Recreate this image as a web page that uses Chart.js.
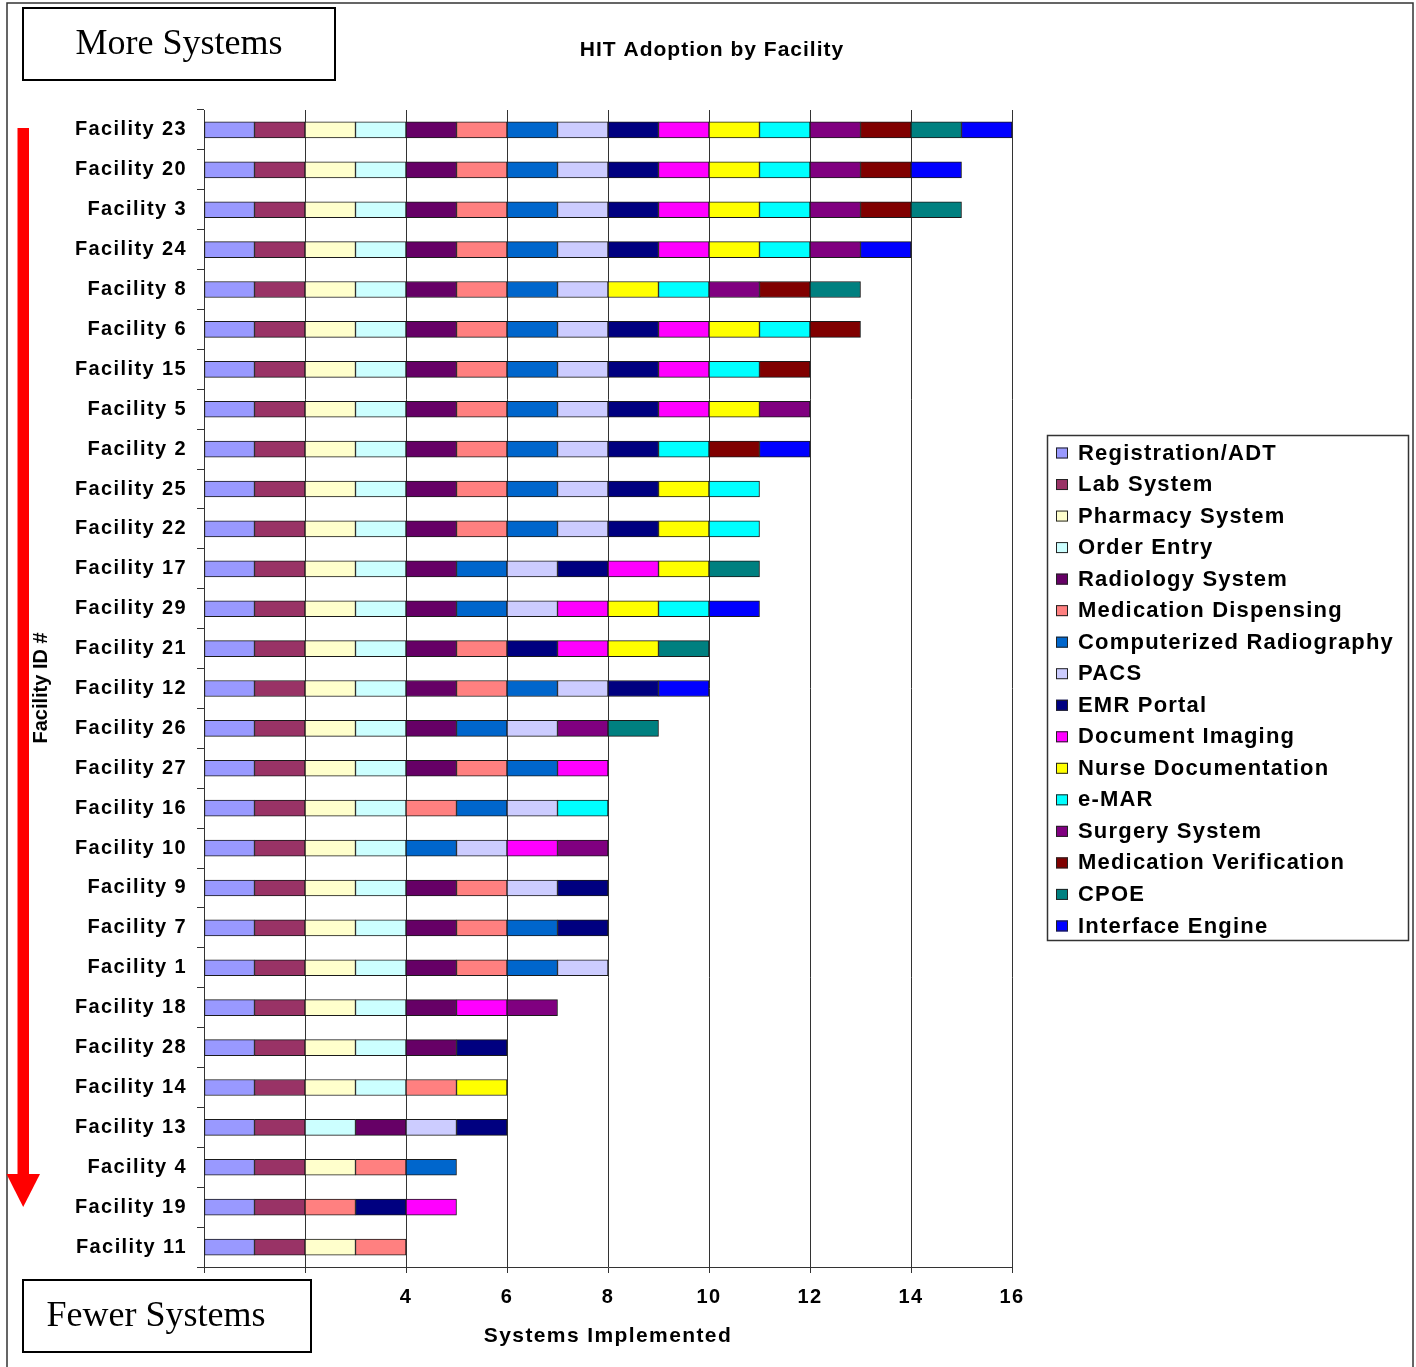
<!DOCTYPE html>
<html>
<head>
<meta charset="utf-8">
<title>HIT Adoption by Facility</title>
<script src="https://cdn.jsdelivr.net/npm/chart.js@4.4.1/dist/chart.umd.min.js"></script>
<style>
  html, body { margin: 0; padding: 0; background: #fff; }
  canvas { display: block; }
</style>
</head>
<body>
<canvas id="hitChart" width="1416" height="1367"></canvas>
<script>
// Facilities, most systems at the top
var facilities = [
    'Facility 23', 'Facility 20', 'Facility 3', 'Facility 24', 'Facility 8',
    'Facility 6', 'Facility 15', 'Facility 5', 'Facility 2', 'Facility 25',
    'Facility 22', 'Facility 17', 'Facility 29', 'Facility 21', 'Facility 12',
    'Facility 26', 'Facility 27', 'Facility 16', 'Facility 10', 'Facility 9',
    'Facility 7', 'Facility 1', 'Facility 18', 'Facility 28', 'Facility 14',
    'Facility 13', 'Facility 4', 'Facility 19', 'Facility 11'
];

// 1 = system implemented, same order as facilities
var registrationADT  = [1,1,1,1,1, 1,1,1,1,1, 1,1,1,1,1, 1,1,1,1,1, 1,1,1,1,1, 1,1,1,1];
var labSystem        = [1,1,1,1,1, 1,1,1,1,1, 1,1,1,1,1, 1,1,1,1,1, 1,1,1,1,1, 1,1,1,1];
var pharmacySystem   = [1,1,1,1,1, 1,1,1,1,1, 1,1,1,1,1, 1,1,1,1,1, 1,1,1,1,1, 0,1,0,1];
var orderEntry       = [1,1,1,1,1, 1,1,1,1,1, 1,1,1,1,1, 1,1,1,1,1, 1,1,1,1,1, 1,0,0,0];
var radiologySystem  = [1,1,1,1,1, 1,1,1,1,1, 1,1,1,1,1, 1,1,0,0,1, 1,1,1,1,0, 1,0,0,0];
var medDispensing    = [1,1,1,1,1, 1,1,1,1,1, 1,0,0,1,1, 0,1,1,0,1, 1,1,0,0,1, 0,1,1,1];
var compRadiography  = [1,1,1,1,1, 1,1,1,1,1, 1,1,1,0,1, 1,1,1,1,0, 1,1,0,0,0, 0,1,0,0];
var pacs             = [1,1,1,1,1, 1,1,1,1,1, 1,1,1,0,1, 1,0,1,1,1, 0,1,0,0,0, 1,0,0,0];
var emrPortal        = [1,1,1,1,0, 1,1,1,1,1, 1,1,0,1,1, 0,0,0,0,1, 1,0,0,1,0, 1,0,1,0];
var documentImaging  = [1,1,1,1,0, 1,1,1,0,0, 0,1,1,1,0, 0,1,0,1,0, 0,0,1,0,0, 0,0,1,0];
var nurseDoc         = [1,1,1,1,1, 1,0,1,0,1, 1,1,1,1,0, 0,0,0,0,0, 0,0,0,0,1, 0,0,0,0];
var eMAR             = [1,1,1,1,1, 1,1,0,1,1, 1,0,1,0,0, 0,0,1,0,0, 0,0,0,0,0, 0,0,0,0];
var surgerySystem    = [1,1,1,1,1, 0,0,1,0,0, 0,0,0,0,0, 1,0,0,1,0, 0,0,1,0,0, 0,0,0,0];
var medVerification  = [1,1,1,0,1, 1,1,0,1,0, 0,0,0,0,0, 0,0,0,0,0, 0,0,0,0,0, 0,0,0,0];
var cpoe             = [1,0,1,0,1, 0,0,0,0,0, 0,1,0,1,0, 1,0,0,0,0, 0,0,0,0,0, 0,0,0,0];
var interfaceEngine  = [1,1,0,1,0, 0,0,0,1,0, 0,0,1,0,1, 0,0,0,0,0, 0,0,0,0,0, 0,0,0,0];

var systemNames = [
    'Registration/ADT', 'Lab System', 'Pharmacy System', 'Order Entry',
    'Radiology System', 'Medication Dispensing', 'Computerized Radiography', 'PACS',
    'EMR Portal', 'Document Imaging', 'Nurse Documentation', 'e-MAR',
    'Surgery System', 'Medication Verification', 'CPOE', 'Interface Engine'
];
var systemValues = [
    registrationADT, labSystem, pharmacySystem, orderEntry,
    radiologySystem, medDispensing, compRadiography, pacs,
    emrPortal, documentImaging, nurseDoc, eMAR,
    surgerySystem, medVerification, cpoe, interfaceEngine
];
var systemColors = [
    '#9999FF', '#993366', '#FFFFCC', '#CCFFFF',
    '#660066', '#FF8080', '#0066CC', '#CCCCFF',
    '#000080', '#FF00FF', '#FFFF00', '#00FFFF',
    '#800080', '#800000', '#008080', '#0000FF'
];

var xTicks = [0, 2, 4, 6, 8, 10, 12, 14, 16];

var chartTitle = 'HIT Adoption by Facility';
var xTitle = 'Systems Implemented';
var yTitle = 'Facility ID #';
var topNote = 'More Systems';
var bottomNote = 'Fewer Systems';

var FONT = "'Liberation Sans', Arial, sans-serif";
var SERIF = "'Liberation Serif', 'Times New Roman', serif";

// Build one stacked dataset per system
var datasets = systemNames.map(function(name, i) {
    return {
        label: name,
        data: systemValues[i].map(function(v) { return v ? v : null; }),
        backgroundColor: systemColors[i],
        borderColor: '#1a1a1a',
        borderWidth: 1,
        borderSkipped: false,
        barThickness: 16
    };
});

// Title, legend, note boxes and the red arrow
var decorPlugin = {
    id: 'decor',
    beforeDraw: function(chart) {
        // the axis text is set a little wide
        chart.ctx.letterSpacing = '1.4px';
    },
    afterDraw: function(chart) {
        var ctx = chart.ctx;
        ctx.save();

        // page frame
        ctx.letterSpacing = '0px';
        ctx.strokeStyle = '#333';
        ctx.lineWidth = 1.5;
        ctx.strokeRect(7, 3, 1406, 1400);

        // chart title
        ctx.fillStyle = '#000';
        ctx.font = 'bold 21px ' + FONT;
        ctx.letterSpacing = '1px';
        ctx.textAlign = 'center';
        ctx.textBaseline = 'middle';
        ctx.fillText(chartTitle, 712, 50);

        // y axis title
        ctx.save();
        ctx.letterSpacing = '0px';
        ctx.translate(41, 688);
        ctx.rotate(-Math.PI / 2);
        ctx.font = 'bold 20px ' + FONT;
        ctx.fillText(yTitle, 0, 0);
        ctx.restore();

        // legend
        ctx.strokeStyle = '#333';
        ctx.lineWidth = 1.5;
        ctx.strokeRect(1047.5, 435.5, 361, 505);
        ctx.font = 'bold 22px ' + FONT;
        ctx.letterSpacing = '1.2px';
        ctx.textAlign = 'left';
        chart.data.datasets.forEach(function(ds, i) {
            var y = 453 + i * 31.53;
            ctx.fillStyle = ds.backgroundColor;
            ctx.fillRect(1056, y - 5.5, 12, 11);
            ctx.strokeStyle = '#222';
            ctx.lineWidth = 1;
            ctx.strokeRect(1056.5, y - 5, 11, 10);
            ctx.fillStyle = '#000';
            ctx.fillText(ds.label, 1078, y + 0.5);
        });

        // note boxes
        ctx.letterSpacing = '0px';
        ctx.lineWidth = 2;
        ctx.strokeStyle = '#000';
        ctx.fillStyle = '#fff';
        ctx.fillRect(23, 8, 312, 72);
        ctx.strokeRect(23, 8, 312, 72);
        ctx.fillRect(23, 1280, 288, 72);
        ctx.strokeRect(23, 1280, 288, 72);
        ctx.fillStyle = '#000';
        ctx.font = '36px ' + SERIF;
        ctx.textBaseline = 'alphabetic';
        ctx.textAlign = 'center';
        ctx.fillText(topNote, 179, 54);
        ctx.fillText(bottomNote, 156, 1326);

        // red arrow pointing down
        ctx.fillStyle = '#FF0000';
        ctx.fillRect(17.5, 128, 11.5, 1047);
        ctx.beginPath();
        ctx.moveTo(6.5, 1174);
        ctx.lineTo(40, 1174);
        ctx.lineTo(23.2, 1207);
        ctx.closePath();
        ctx.fill();

        ctx.restore();
    }
};

var hitChart = new Chart(document.getElementById('hitChart'), {
    type: 'bar',
    data: {
        labels: facilities,
        datasets: datasets
    },
    options: {
        indexAxis: 'y',
        responsive: false,
        animation: false,
        events: [],
        layout: {
            padding: { left: 20, right: 404, top: 110, bottom: 0 }
        },
        plugins: {
            legend: { display: false },
            title: { display: false },
            tooltip: { enabled: false }
        },
        scales: {
            x: {
                stacked: true,
                min: 0,
                max: 16,
                afterBuildTicks: function(scale) {
                    scale.ticks = xTicks.map(function(v) { return { value: v }; });
                },
                afterFit: function(scale) {
                    scale.height = 100;
                },
                grid: {
                    color: '#333',
                    lineWidth: 1,
                    tickLength: 6
                },
                border: { color: '#333', width: 1 },
                ticks: {
                    color: '#000',
                    padding: 12,
                    maxRotation: 0,
                    font: { family: FONT, size: 20, weight: 'bold' }
                },
                title: {
                    display: true,
                    text: xTitle,
                    color: '#000',
                    padding: { top: 4, bottom: 18 },
                    font: { family: FONT, size: 21, weight: 'bold' }
                }
            },
            y: {
                stacked: true,
                afterFit: function(scale) {
                    scale.width = 184;
                },
                grid: {
                    drawOnChartArea: false,
                    drawTicks: true,
                    tickLength: 7,
                    color: '#333'
                },
                border: { color: '#333', width: 1 },
                ticks: {
                    color: '#000',
                    padding: 10,
                    font: { family: FONT, size: 20, weight: 'bold' }
                }
            }
        }
    },
    plugins: [decorPlugin]
});
</script>
</body>
</html>
